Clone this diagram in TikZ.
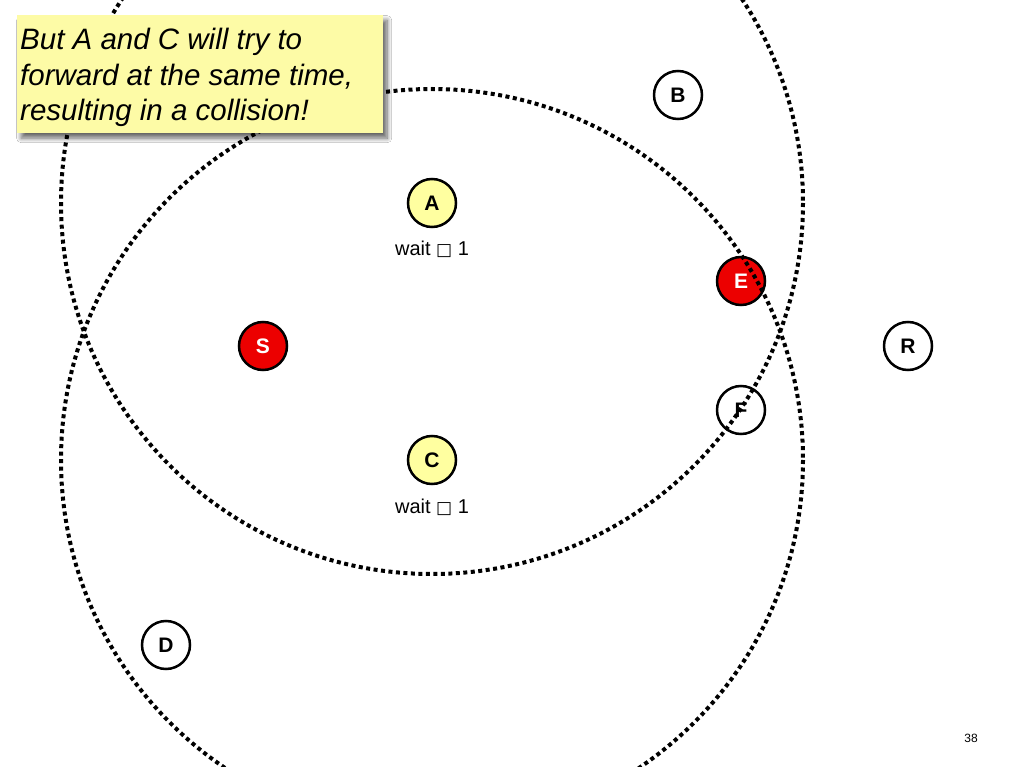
\documentclass[tikz,border=0pt]{standalone}
\usepackage{fontspec}
\setmainfont{Liberation Sans}
\newfontfamily\symfont{DejaVu Sans}
\usetikzlibrary{shadows.blur}
\definecolor{paleyellow}{RGB}{255,255,160}
\definecolor{noteyellow}{RGB}{253,251,166}
\definecolor{nodered}{RGB}{236,0,0}
\tikzset{
  plainnode/.style={circle, draw=black, line width=2.5pt, fill=white, minimum size=48pt, inner sep=0pt,
    font=\fontsize{21}{24}\selectfont\bfseries},
  yellownode/.style={plainnode, fill=paleyellow},
  rednode/.style={plainnode, fill=nodered, text=white},
  waitlabel/.style={font=\fontsize{20}{24}\selectfont, inner sep=0pt},
  rangeline/.style={line width=4pt, dash pattern=on 4pt off 3.5pt},
  notebox/.style={draw=none, fill=noteyellow, anchor=north west, inner sep=0pt,
    minimum width=366pt, minimum height=118pt,
    blur shadow={shadow xshift=4pt, shadow yshift=-5pt, shadow blur radius=4.5pt, shadow blur steps=12, shadow opacity=60}},
  notetext/.style={align=left, anchor=north west, inner sep=0pt,
    font=\fontsize{29.5}{35.5}\selectfont\itshape}
}
\newcommand{\missingglyph}{{\symfont\fontsize{17}{20}\selectfont □}}
\begin{document}
\begin{tikzpicture}[x=1pt, y=-1pt]
\useasboundingbox (0,0) rectangle (1023,767);
\fill[white] (0,0) rectangle (1023,767);
% nodes
\node[plainnode] (B) at (678,95) {B};
\node[yellownode] (A) at (432,203) {A};
\node[rednode] (E) at (741,281) {E};
\node[rednode] (S) at (263,346) {S};
\node[plainnode] (R) at (908,346) {R};
\node[plainnode] (F) at (741,410) {F};
\node[yellownode] (C) at (432,460) {C};
\node[plainnode] (D) at (166,645) {D};
\node[waitlabel] (waitA) at (432,249) {wait \missingglyph{} 1};
\node[waitlabel] (waitC) at (432,507) {wait \missingglyph{} 1};
% ranges
\begin{scope}
\clip (0,0) rectangle (1023,767);
\draw[rangeline] (A.center) circle [radius=371];
\draw[rangeline] (C.center) circle [radius=371];
\end{scope}
% callout
\node[notebox] (callout) at (17,15) {};
\node[notetext] (callouttext) at (20,28) {But A and C will try to\\forward at the same time,\\resulting in a collision!};
\node[font=\fontsize{12}{14}\selectfont, inner sep=0pt] (pagenum) at (971,738) {38};
\end{tikzpicture}
\end{document}
